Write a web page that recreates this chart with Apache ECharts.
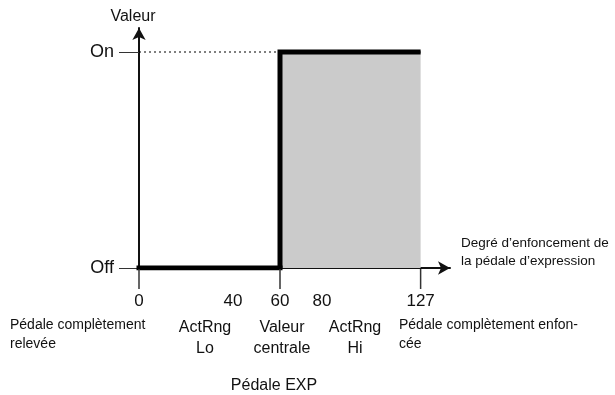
<!DOCTYPE html>
<html>
<head>
<meta charset="utf-8">
<script src="https://cdn.jsdelivr.net/npm/echarts@6/dist/echarts.min.js"></script>
<style>html,body{margin:0;padding:0;background:#fff}#c{width:615px;height:395px}</style>
</head>
<body>
<div id="c"></div>
<script>
// ---- data ----
const stateLevels = [0, 1];                 // Off, On
const stateNames = ['Off', 'On'];
const centerValue = 60;                      // Valeur centrale
const pedalMin = 0, pedalMax = 127;
const lowTickLabels = [0, 40, 60];
const lowTicks = [0, 60];
const highTickLabels = [80, 127];
const highTicks = [127];
const offSegment = [[pedalMin, 0], [centerValue, 0]];
const onStep = [[centerValue, 0], [centerValue, 1], [pedalMax, 1]];
const onArea = [[centerValue, 1], [pedalMax, 1]];
const dotLow = [[pedalMin, 1], [centerValue, 1]];
const dotHigh = [[centerValue, 1], [pedalMax, 1]];
const yTitle = 'Valeur';
const xTitle = 'Degré d’enfoncement de\nla pédale d’expression';
const bottomTitle = 'Pédale EXP';
const descLeft = 'Pédale complètement\nrelevée';
const descLo = 'ActRng\nLo';
const descCenter = 'Valeur\ncentrale';
const descHi = 'ActRng\nHi';
const descRight = 'Pédale complètement enfon-\ncée';

const FONT = 'Liberation Sans';
const INK = '#111';
const chart = echarts.init(document.getElementById('c'));

const yCommon = {
  type: 'value', min: 0, max: 1.111,
  splitLine: {show: false}
};

chart.setOption({
  animation: false,
  grid: [
    {left: 139, top: 28, width: 141, height: 240},
    {left: 280, top: 28, width: 170, height: 240}
  ],
  xAxis: [
    {
      type: 'value', gridIndex: 0, min: 0, max: 60,
      splitLine: {show: false},
      axisLine: {lineStyle: {color: INK, width: 2}},
      axisTick: {show: false},
      axisLabel: {customValues: lowTickLabels, margin: 25, fontSize: 17, color: INK, fontFamily: FONT,
                  showMinLabel: true, showMaxLabel: true, hideOverlap: false}
    },
    {
      type: 'value', gridIndex: 1, min: 60, max: 141,
      splitLine: {show: false},
      axisLine: {symbol: ['none', 'arrow'], symbolSize: [10, 12], lineStyle: {color: INK, width: 2}},
      axisTick: {show: false},
      axisLabel: {customValues: highTickLabels, margin: 25, fontSize: 17, color: INK, fontFamily: FONT,
                  showMinLabel: true, showMaxLabel: true, hideOverlap: false}
    }
  ],
  yAxis: [
    Object.assign({}, yCommon, {
      gridIndex: 0,
      name: yTitle, nameLocation: 'end', nameGap: 3,
      nameTextStyle: {fontSize: 16, color: INK, fontFamily: FONT, padding: [0, 12, 0, 0]},
      axisLine: {show: true, symbol: ['none', 'arrow'], symbolSize: [10, 12], lineStyle: {color: INK, width: 2}},
      axisTick: {show: true, length: 20, customValues: stateLevels, lineStyle: {color: '#333', width: 1}},
      axisLabel: {customValues: stateLevels, margin: 25, fontSize: 18, color: INK, fontFamily: FONT,
                  formatter: v => stateNames[Math.round(v)], showMinLabel: true, showMaxLabel: true}
    }),
    Object.assign({}, yCommon, {
      gridIndex: 1, show: false
    })
  ],
  series: [
    {
      type: 'line', xAxisIndex: 1, yAxisIndex: 1, data: onArea, symbol: 'none', z: 1,
      lineStyle: {width: 0}, areaStyle: {color: '#cbcbcb', opacity: 1}
    },
    {
      type: 'line', xAxisIndex: 0, yAxisIndex: 0, data: dotLow, symbol: 'none', z: 5,
      lineStyle: {color: '#000', width: 1.2, type: [2, 3]}
    },
    {
      type: 'line', xAxisIndex: 0, yAxisIndex: 0, data: offSegment, symbol: 'none', z: 3,
      lineStyle: {color: '#000', width: 5, cap: 'square'}
    },
    {
      type: 'line', xAxisIndex: 1, yAxisIndex: 1, data: onStep, symbol: 'none', z: 3,
      lineStyle: {color: '#000', width: 5, cap: 'butt', join: 'miter'}
    },
    {
      type: 'line', xAxisIndex: 1, yAxisIndex: 1, data: dotHigh, symbol: 'none', z: 5,
      lineStyle: {color: '#000', width: 1.2, type: [2, 3]}
    }
  ]
});

// x-axis tick marks, placed through the axes' own scales (own layer, on top)
const yBase = chart.convertToPixel({yAxisIndex: 0}, 0);
const elements = [];
[[0, lowTicks], [1, highTicks]].forEach(([ai, vals]) => {
  vals.forEach(v => {
    const px = chart.convertToPixel({xAxisIndex: ai}, v);
    elements.push({type: 'rect', zlevel: 1, z: 100, silent: true,
      shape: {x: px - 0.75, y: yBase + 1, width: 1.5, height: 20},
      style: {fill: '#333'}});
  });
});
elements.push(
  {type: 'text', left: 461, top: 234, style: {text: xTitle, font: '13.5px ' + FONT, fill: INK, lineHeight: 18}},
  {type: 'text', left: 10, top: 316, style: {text: descLeft, font: '14px ' + FONT, fill: INK, lineHeight: 19}},
  {type: 'text', left: 399, top: 316, style: {text: descRight, font: '14px ' + FONT, fill: INK, lineHeight: 19}},
  {type: 'text', x: 205, y: 317, style: {text: descLo, font: '16px ' + FONT, fill: INK, lineHeight: 21, align: 'center'}},
  {type: 'text', x: 282, y: 317, style: {text: descCenter, font: '16px ' + FONT, fill: INK, lineHeight: 21, align: 'center'}},
  {type: 'text', x: 355, y: 317, style: {text: descHi, font: '16px ' + FONT, fill: INK, lineHeight: 21, align: 'center'}},
  {type: 'text', x: 274, y: 378, style: {text: bottomTitle, font: '16px ' + FONT, fill: INK, align: 'center'}}
);
chart.setOption({graphic: elements});
</script>
</body>
</html>
